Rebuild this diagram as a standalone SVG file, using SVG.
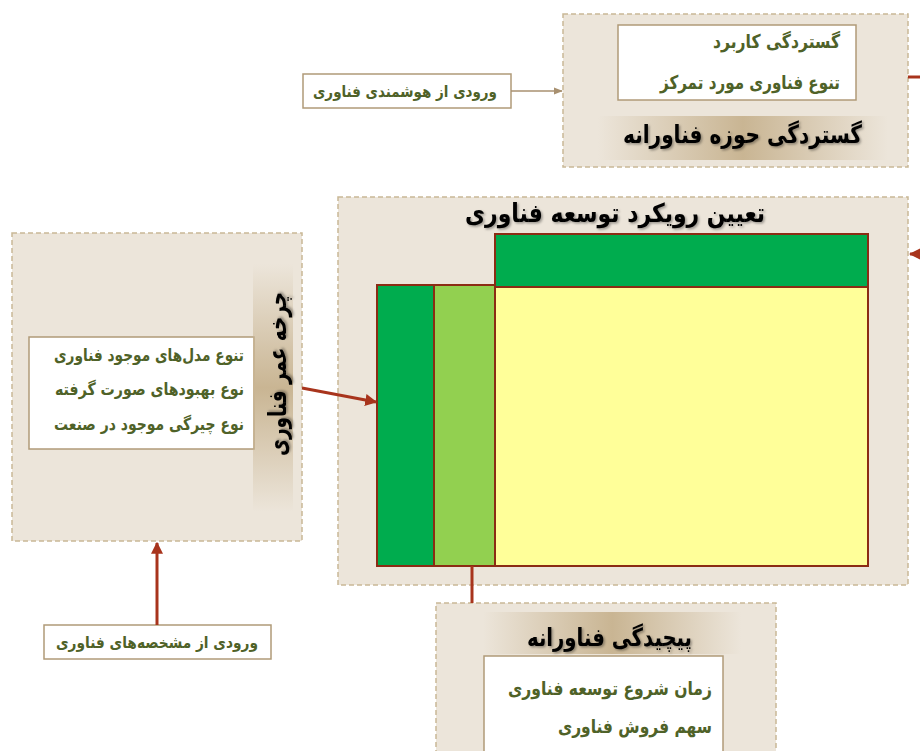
<svg xmlns="http://www.w3.org/2000/svg" width="920" height="751" viewBox="0 0 920 751">
  <style>
    .panel { fill: #ECE5DA; stroke: #C9B896; stroke-width: 1.5; stroke-dasharray: 5 3; }
    .card { fill: #FFFFFF; stroke: #B09A78; stroke-width: 1.5; }
    .item { font-family: "DejaVu Sans", "Noto Sans", sans-serif; fill: #4F6228; font-weight: bold; }
    .title { font-family: "DejaVu Sans", "Noto Sans", sans-serif; fill: #000000; font-weight: bold; }
    .cell { stroke: #8B2C14; stroke-width: 2; }
    .red { stroke: #A8341C; stroke-width: 3; fill: none; }
    .tan { stroke: #A89070; stroke-width: 1.5; fill: none; }
  </style>
  <defs>
    <linearGradient id="bandH" x1="0" y1="0" x2="1" y2="0">
      <stop offset="0" stop-color="#C9B593" stop-opacity="0"/>
      <stop offset="0.5" stop-color="#C9B593" stop-opacity="1"/>
      <stop offset="1" stop-color="#C9B593" stop-opacity="0"/>
    </linearGradient>
    <linearGradient id="bandV" x1="0" y1="0" x2="0" y2="1">
      <stop offset="0" stop-color="#C9B593" stop-opacity="0"/>
      <stop offset="0.5" stop-color="#C9B593" stop-opacity="1"/>
      <stop offset="1" stop-color="#C9B593" stop-opacity="0"/>
    </linearGradient>
    <filter id="shadow" x="-10%" y="-30%" width="120%" height="160%">
      <feDropShadow dx="1.5" dy="1.5" stdDeviation="0.8" flood-color="#000" flood-opacity="0.35"/>
    </filter>
    <marker id="redHead" viewBox="0 0 10 10" refX="9" refY="5" markerWidth="4" markerHeight="4" orient="auto">
      <path d="M0,0 L10,5 L0,10 Z" fill="#A8341C"/>
    </marker>
    <marker id="tanHead" viewBox="0 0 10 10" refX="9" refY="5" markerWidth="6" markerHeight="6" orient="auto">
      <path d="M0,1 L10,5 L0,9 Z" fill="#A89070"/>
    </marker>
  </defs>

  <!-- technology intelligence input -->
  <g id="input-intelligence">
    <rect class="card" x="303" y="74" width="208" height="34"/>
    <text class="item" x="497" y="97" font-size="16" text-anchor="end" textLength="184" lengthAdjust="spacingAndGlyphs">ورودی از هوشمندی فناوری</text>
  </g>

  <!-- scope of technology domain -->
  <g id="scope">
    <rect class="panel" x="563" y="14" width="345" height="153"/>
    <rect class="card" x="618" y="25" width="238" height="75"/>
    <text class="item" x="840" y="48" font-size="19" text-anchor="end" textLength="127" lengthAdjust="spacingAndGlyphs">گستردگی کاربرد</text>
    <text class="item" x="840" y="89" font-size="19" text-anchor="end" textLength="180" lengthAdjust="spacingAndGlyphs">تنوع فناوری مورد تمرکز</text>
    <rect x="598" y="116" width="290" height="44" fill="url(#bandH)"/>
    <text class="title" x="862" y="143" font-size="25" text-anchor="end" textLength="239" lengthAdjust="spacingAndGlyphs" filter="url(#shadow)">گستردگی حوزه فناورانه</text>
  </g>

  <!-- technology development approach -->
  <g id="approach">
    <rect class="panel" x="338" y="197" width="570" height="388"/>
    <text class="title" x="765" y="222" font-size="26" text-anchor="end" textLength="300" lengthAdjust="spacingAndGlyphs" filter="url(#shadow)">تعیین رویکرد توسعه فناوری</text>
    <rect class="cell" x="495" y="234" width="373" height="53" fill="#00AC4E"/>
    <rect class="cell" x="377" y="285" width="57" height="281" fill="#00AC4E"/>
    <rect class="cell" x="434" y="285" width="61" height="281" fill="#92D050"/>
    <rect class="cell" x="495" y="287" width="373" height="279" fill="#FFFF99"/>
  </g>

  <!-- technology life cycle -->
  <g id="life-cycle">
    <rect class="panel" x="12" y="233" width="290" height="308"/>
    <rect class="card" x="29" y="337" width="225" height="112"/>
    <text class="item" x="244" y="361" font-size="17" font-weight="normal" text-anchor="end" textLength="190" lengthAdjust="spacingAndGlyphs">تنوع مدل‌های موجود فناوری</text>
    <text class="item" x="244" y="395" font-size="17" font-weight="normal" text-anchor="end" textLength="189" lengthAdjust="spacingAndGlyphs">نوع بهبودهای صورت گرفته</text>
    <text class="item" x="244" y="430" font-size="17" font-weight="normal" text-anchor="end" textLength="190" lengthAdjust="spacingAndGlyphs">نوع چیرگی موجود در صنعت</text>
    <rect x="253" y="264" width="40" height="248" fill="url(#bandV)"/>
    <text class="title" transform="translate(286 374) rotate(-90)" x="0" y="0" font-size="25" text-anchor="middle" textLength="164" lengthAdjust="spacingAndGlyphs" filter="url(#shadow)">چرخه عمر فناوری</text>
  </g>

  <!-- technology specification input -->
  <g id="input-specification">
    <rect class="card" x="44" y="625" width="227" height="34"/>
    <text class="item" x="258" y="648" font-size="16" text-anchor="end" textLength="202" lengthAdjust="spacingAndGlyphs">ورودی از مشخصه‌های فناوری</text>
  </g>

  <!-- technology complexity -->
  <g id="complexity">
    <rect class="panel" x="436" y="603" width="340" height="160"/>
    <rect x="483" y="612" width="258" height="42" fill="url(#bandH)"/>
    <text class="title" x="692" y="646" font-size="25" text-anchor="end" textLength="165" lengthAdjust="spacingAndGlyphs" filter="url(#shadow)">پیچیدگی فناورانه</text>
    <rect class="card" x="484" y="656" width="239" height="110"/>
    <text class="item" x="712" y="695" font-size="19" text-anchor="end" textLength="204" lengthAdjust="spacingAndGlyphs">زمان شروع توسعه فناوری</text>
    <text class="item" x="712" y="733" font-size="19" text-anchor="end" textLength="154" lengthAdjust="spacingAndGlyphs">سهم فروش فناوری</text>
  </g>

  <!-- connectors -->
  <g id="connectors">
    <line class="tan" x1="511" y1="91" x2="562" y2="91" marker-end="url(#tanHead)"/>
    <line class="red" x1="908" y1="77" x2="920" y2="77"/>
    <line class="red" x1="920" y1="254" x2="910" y2="254" marker-end="url(#redHead)"/>
    <line class="red" x1="302" y1="388" x2="376" y2="402" marker-end="url(#redHead)"/>
    <line class="red" x1="157" y1="625" x2="157" y2="543" marker-end="url(#redHead)"/>
    <line class="red" x1="472" y1="566" x2="472" y2="603"/>
  </g>
</svg>
